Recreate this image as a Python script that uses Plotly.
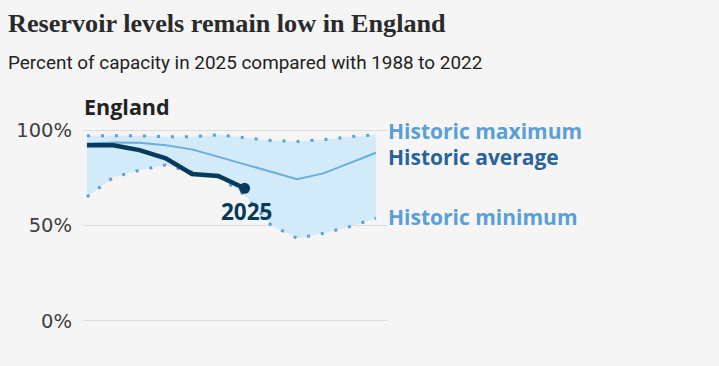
import plotly.graph_objects as go

months = ["Jan", "Feb", "Mar", "Apr", "May", "Jun", "Jul", "Aug", "Sep", "Oct", "Nov", "Dec"]
hist_max = [97.0, 97.0, 97.0, 96.5, 96.5, 97.5, 96.0, 94.5, 94.0, 95.0, 96.5, 97.5]
hist_min = [65.0, 75.2, 79.0, 81.7, 78.0, 75.5, 66.0, 50.3, 43.3, 45.9, 49.4, 53.8]
hist_avg = [93.0, 93.5, 93.3, 92.1, 89.9, 86.0, 81.7, 78.2, 74.3, 77.3, 82.5, 88.1]
levels_2025 = [92.1, 92.0, 89.5, 85.2, 77.0, 75.9, 69.5]
y_ticks = [0, 50, 100]
y_tick_labels = ["0%", "50%", "100%"]

xi = list(range(len(months)))
x25 = list(range(len(levels_2025)))

W, H = 719, 366
L, R, T, B = 83, 332, 111, 26
PW, PH = W - L - R, H - T - B


def px(x):
    return (x - L) / PW


def py(y):
    return (H - B - y) / PH


DOT = "#5b9fd4"
FILL = "#d3eaf8"
AVG = "#6aaee0"
DARK = "#063a5b"

fig = go.Figure()
fig.add_trace(go.Scatter(x=xi, y=hist_max, mode="lines",
                         line=dict(color=DOT, width=3, dash="3px,11px"),
                         hoverinfo="skip", showlegend=False))
fig.add_trace(go.Scatter(x=xi, y=hist_min, mode="lines", fill="tonexty", fillcolor=FILL,
                         line=dict(color=DOT, width=3, dash="3px,11px"),
                         hoverinfo="skip", showlegend=False))
fig.add_trace(go.Scatter(x=xi, y=hist_avg, mode="lines",
                         line=dict(color=AVG, width=2),
                         hoverinfo="skip", showlegend=False))
fig.add_trace(go.Scatter(x=x25, y=levels_2025, mode="lines",
                         line=dict(color=DARK, width=4.5),
                         hoverinfo="skip", showlegend=False))
fig.add_trace(go.Scatter(x=[x25[-1]], y=[levels_2025[-1]], mode="markers",
                         marker=dict(color=DARK, size=11),
                         hoverinfo="skip", showlegend=False))

lab_font = "Open Sans"
ann = [
    dict(x=387, y=131, text="<b>Historic maximum</b>", color="#5a9fd6", xanchor="left", size=21),
    dict(x=387, y=157, text="<b>Historic average</b>", color="#2a6398", xanchor="left", size=21),
    dict(x=387, y=217, text="<b>Historic minimum</b>", color="#5a9fd6", xanchor="left", size=21),
    dict(x=246, y=211, text="<b>2025</b>", color=DARK, xanchor="center", size=22.5),
    dict(x=83, y=107, text="<b>England</b>", color="#222222", xanchor="left", size=21.5),
]
for a in ann:
    fig.add_annotation(x=px(a["x"]), y=py(a["y"]), xref="paper", yref="paper", text=a["text"],
                       showarrow=False, xanchor=a["xanchor"], yanchor="middle",
                       font=dict(family=lab_font, size=a["size"], color=a["color"]),
                       borderpad=0)

fig.add_annotation(x=px(6), y=py(23), xref="paper", yref="paper",
                   text="<b>Reservoir levels remain low in England</b>", showarrow=False,
                   xanchor="left", yanchor="middle",
                   font=dict(family="Liberation Serif", size=26.2, color="#2a2a2a"))
fig.add_annotation(x=px(6), y=py(63), xref="paper", yref="paper",
                   text="Percent of capacity in 2025 compared with 1988 to 2022", showarrow=False,
                   xanchor="left", yanchor="middle",
                   font=dict(family="Roboto", size=18.9, color="#222222"))

fig.update_layout(
    width=W, height=H,
    margin=dict(l=L, r=R, t=T, b=B),
    paper_bgcolor="#f5f5f5", plot_bgcolor="#f5f5f5",
    xaxis=dict(range=[-0.15, 11.42], showgrid=False, zeroline=False, showticklabels=False,
               showline=False, fixedrange=True),
    yaxis=dict(range=[-10, 110], tickvals=y_ticks, ticktext=y_tick_labels,
               showgrid=True, gridcolor="#dcdcdc", gridwidth=1, zeroline=False,
               showline=False, ticklabelstandoff=10, fixedrange=True,
               tickfont=dict(family="DejaVu Sans", size=19.5, color="#404040")),
)
fig.write_html("out.html", config={"displayModeBar": False},
               post_script="document.body.style.margin='0';document.body.style.background='#f5f5f5';")
